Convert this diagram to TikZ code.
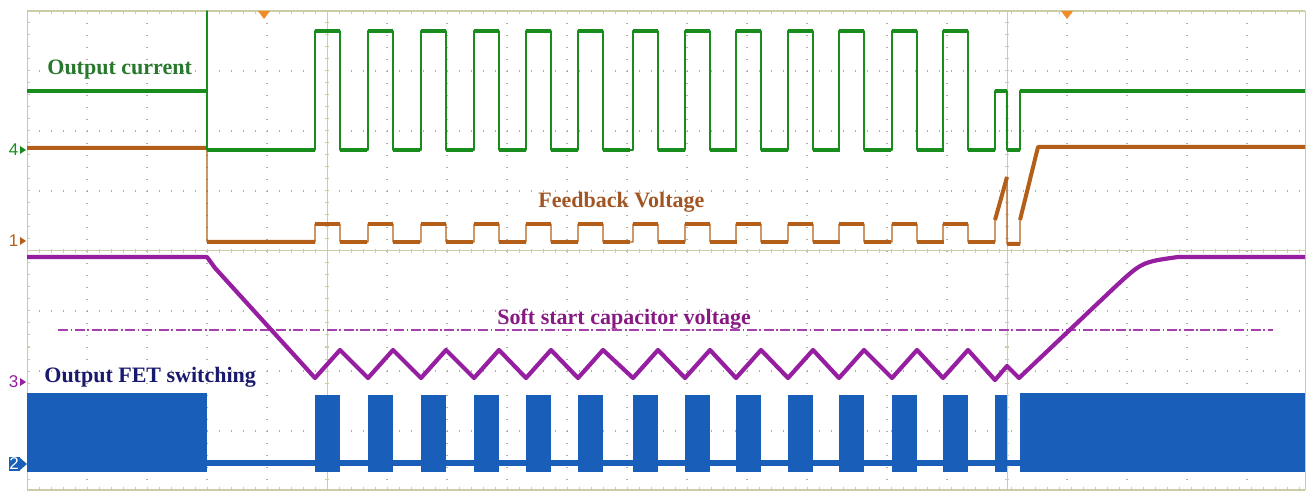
\documentclass[tikz,border=0pt]{standalone}
\usepackage{fontspec}
\setmainfont{Liberation Serif}
\newfontfamily\markfont{Liberation Sans}
\usepackage{tikz}
\usetikzlibrary{positioning}
\definecolor{curgreen}{RGB}{25,140,30}
\definecolor{curtext}{RGB}{40,120,45}
\definecolor{fbbrown}{RGB}{180,95,25}
\definecolor{fbtext}{RGB}{160,85,35}
\definecolor{sspurple}{RGB}{150,30,160}
\definecolor{sstext}{RGB}{135,25,130}
\definecolor{fetblue}{RGB}{25,95,185}
\definecolor{fettext}{RGB}{25,25,110}
\definecolor{gridgray}{RGB}{175,175,165}
\definecolor{framecol}{RGB}{205,205,165}
\definecolor{trigorange}{RGB}{240,140,40}
\tikzset{edge trace/.style={line width=0.6pt},
  level trace/.style={line width=2pt},
  grid dots/.style={gridgray, line width=0.7pt, dash pattern=on 0.7pt off 5.3pt},
  tick line/.style={framecol, line width=0.5pt},
  sig label/.style={font=\bfseries\fontsize{11}{13}\selectfont, inner sep=0pt, anchor=base west},
  ch mark/.style={font=\markfont\fontsize{8.5}{9}\selectfont, inner sep=0.6pt, anchor=east},}
\def\pulses{315,368,421,474,526,578,633,685,736,788,839,892,943}

\begin{document}
\begin{tikzpicture}[x=0.5pt, y=-0.5pt, line join=round]
    \useasboundingbox (0,0) rectangle (1310,491);

    % screen grid
    \foreach \x in {87,147,207,267,387,447,507,567,627,687,747,807,887,947,1067,1127,1187,1247}
        \draw[grid dots] (\x,11) -- (\x,491);
    \foreach \y in {71,131,191,311,371,431}
        \draw[grid dots] (27,\y) -- (1305,\y);
    \draw[framecol, line width=0.6pt] (27,11) -- (1305,11) (27,490) -- (1305,490);
    \draw[gridgray!70, line width=0.5pt] (27,11) -- (27,490) (1305,11) -- (1305,490);
    \draw[tick line] (327,11) -- (327,490) (1007,11) -- (1007,490) (27,251) -- (1305,251);
    \foreach \x in {39,51,...,1299}
        \draw[tick line] (\x,11) -- (\x,14) (\x,490) -- (\x,487) (\x,249) -- (\x,253);
    \foreach \y in {23,35,...,479}
        \draw[tick line] (27,\y) -- (30,\y) (325,\y) -- (329,\y) (1005,\y) -- (1009,\y);
    \fill[trigorange] (258,11) -- (270,11) -- (264,19) -- cycle;
    \fill[trigorange] (1061,11) -- (1073,11) -- (1067,19) -- cycle;

    % output FET switching
    \draw[fetblue, line width=3pt] (207,463) -- (1020,463);
    \fill[fetblue] (27,393) rectangle (207,472);
    \foreach \s in \pulses
        \fill[fetblue] (\s,395) rectangle (\s+25,472);
    \fill[fetblue] (995,395) rectangle (1007,472);
    \fill[fetblue] (1020,393) rectangle (1305,472);

    % soft start capacitor voltage
    \draw[sspurple!85, line width=0.6pt, dash pattern=on 5pt off 1.3pt on 0.8pt off 1.3pt] (58,330) -- (1273,330);
    \draw[sspurple, line width=2.1pt] (27,257) -- (207,257) -- (215,268)
        \foreach \s in \pulses {-- (\s,378) -- (\s+25,350)}
        -- (995,380) -- (1007,366) -- (1019,378) -- (1115,287) .. controls (1142,262) .. (1178,257) -- (1305,257);

    % feedback voltage
    \draw[fbbrown, edge trace] (27,148) -- (207,148) -- (207,242)
        \foreach \s in \pulses {-- (\s,242) -- (\s,224) -- (\s+25,224) -- (\s+25,242)}
        -- (995,242) -- (995,220) -- (1007,177) -- (1007,244) -- (1020,244) -- (1020,220) -- (1038,147) -- (1305,147);
    \draw[fbbrown, level trace] (27,148) -- (207,148) (207,242) -- (315,242) (995,220) -- (1007,177)
        (1007,244) -- (1020,244) (1020,220) -- (1038,147) -- (1305,147);
    \foreach \s in \pulses
        \draw[fbbrown, level trace] (\s,224) -- (\s+25,224) (\s+25,242) -- (\s+52,242);

    % output current
    \draw[curgreen, edge trace] (27,91) -- (207,91) -- (207,11) -- (207,150)
        \foreach \s in \pulses {-- (\s,150) -- (\s,31) -- (\s+25,31) -- (\s+25,150)}
        -- (995,150) -- (995,91) -- (1007,91) -- (1007,150) -- (1020,150) -- (1020,91) -- (1305,91);
    \draw[curgreen, level trace] (27,91) -- (207,91) (207,150) -- (315,150) (995,91) -- (1007,91)
        (1007,150) -- (1020,150) (1020,91) -- (1305,91);
    \foreach \s in \pulses
        \draw[curgreen, level trace] (\s,31) -- (\s+25,31) (\s+25,150) -- (\s+52,150);

    % channel markers
    \node[ch mark, text=curgreen] (mark4) at (20,150) {4};
    \node[ch mark, text=fbbrown] (mark1) at (20,241) {1};
    \node[ch mark, text=sspurple] (mark3) at (20,382) {3};
    \node[ch mark, fill=fetblue, text=white, inner sep=0.3pt, minimum height=6.5pt, minimum width=5.5pt] (mark2) at (20,464) {2};
    \fill[curgreen] (20,146) -- (26,150) -- (20,154) -- cycle;
    \fill[fbbrown] (20,237) -- (26,241) -- (20,245) -- cycle;
    \fill[sspurple] (20,378) -- (26,382) -- (20,386) -- cycle;
    \fill[fetblue] (19.5,457.5) -- (27,464) -- (19.5,470.5) -- cycle;

    % labels
    \node[sig label, text=curtext] (current) at (47,75) {Output current};
    \node[sig label, text=fbtext] (feedback) at (538,208) {Feedback Voltage};
    \node[sig label, text=sstext] (softstart) at (497,325) {Soft start capacitor voltage};
    \node[sig label, text=fettext] (fetswitch) at (44,382) {Output FET switching};
\end{tikzpicture}
\end{document}
